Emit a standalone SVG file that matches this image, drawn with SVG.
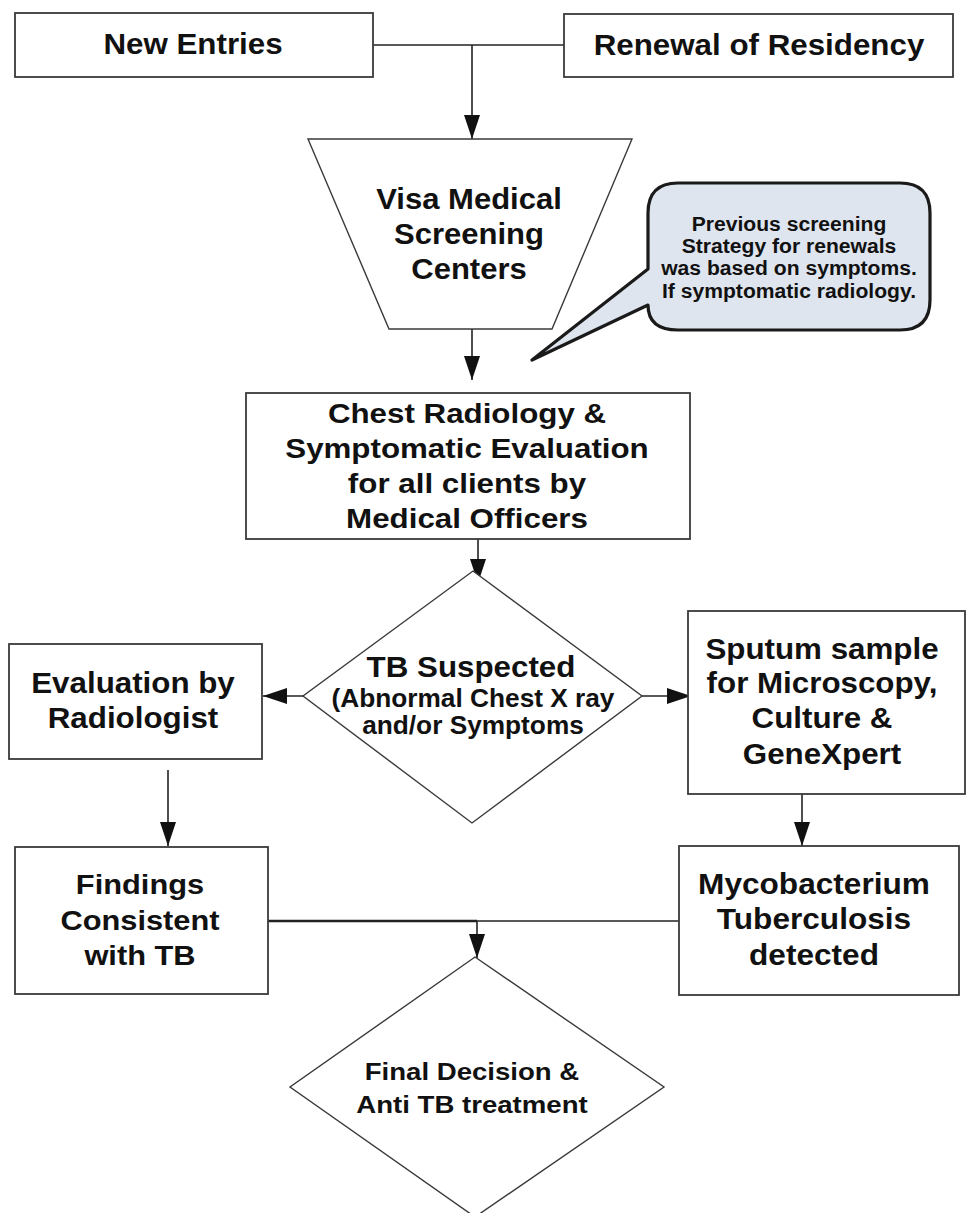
<svg xmlns="http://www.w3.org/2000/svg" width="967" height="1213" viewBox="0 0 967 1213">
<style>
.box{fill:#fff;stroke:#3a3a3a;stroke-width:1.8}
.shape{fill:#fff;stroke:#3a3a3a;stroke-width:1.4}
.ln{fill:none;stroke:#222;stroke-width:1.6}
.t{font-family:"Liberation Sans",Arial,sans-serif;font-weight:bold;fill:#111;text-anchor:middle}
</style>
<defs>
<marker id="ah" markerWidth="24" markerHeight="16" refX="24" refY="8" orient="auto" markerUnits="userSpaceOnUse">
<path d="M0,0 L24,8 L0,16 z" fill="#111"/>
</marker>
</defs>
<rect width="967" height="1213" fill="#fff"/>

<g id="connectors">
<path class="ln" d="M373,45 H564"/>
<path class="ln" d="M472,45 V139" marker-end="url(#ah)"/>
<path class="ln" d="M472,329 V380" marker-end="url(#ah)"/>
<path class="ln" d="M478,539 V583" marker-end="url(#ah)"/>
<path class="ln" d="M303,696 H263" marker-end="url(#ah)"/>
<path class="ln" d="M642,696 H691" marker-end="url(#ah)"/>
<path class="ln" d="M168,770 V846" marker-end="url(#ah)"/>
<path class="ln" d="M802,794 V846" marker-end="url(#ah)"/>
<path class="ln" d="M268,921 H477" style="stroke-width:2.4"/>
<path class="ln" d="M477,921 H679"/>
<path class="ln" d="M477,921 V958" marker-end="url(#ah)"/>
</g>

<g id="new-entries">
<rect class="box" x="15" y="13" width="358" height="64"/>
<g transform="translate(193,0) scale(1.08,1)"><text class="t" x="0" y="54" font-size="29">New Entries</text></g>
</g>

<g id="renewal">
<rect class="box" x="564" y="14" width="389" height="63"/>
<g transform="translate(759,0) scale(1.08,1)"><text class="t" x="0" y="55" font-size="29">Renewal of Residency</text></g>
</g>

<g id="visa-centers">
<polygon class="shape" points="308,139 632,139 552,329 389,329"/>
<g transform="translate(469,0) scale(1.07,1)">
<text class="t" x="0" y="209" font-size="29">Visa Medical</text>
<text class="t" x="0" y="244" font-size="29">Screening</text>
<text class="t" x="0" y="279" font-size="29">Centers</text>
</g>
</g>

<g id="callout">
<path d="M678,183 H900 Q930,183 930,213 V300 Q930,330 900,330 H678 Q648,330 648,305 L532,360 L648,269 V213 Q648,183 678,183 Z" fill="#dfe5ee" stroke="#1a1a1a" stroke-width="3.2" stroke-linejoin="round"/>
<g transform="translate(789,0) scale(1.03,1)">
<text class="t" x="0" y="231" font-size="20.5">Previous screening</text>
<text class="t" x="0" y="253" font-size="20.5">Strategy for renewals</text>
<text class="t" x="0" y="275" font-size="20.5">was based on symptoms.</text>
<text class="t" x="0" y="298" font-size="20.5">If symptomatic radiology.</text>
</g>
</g>

<g id="chest-radiology">
<rect class="box" x="246" y="393" width="444" height="146"/>
<g transform="translate(467,0) scale(1.16,1)">
<text class="t" x="0" y="423" font-size="27">Chest Radiology &amp;</text>
<text class="t" x="0" y="458" font-size="27">Symptomatic Evaluation</text>
<text class="t" x="0" y="493" font-size="27">for all clients by</text>
<text class="t" x="0" y="528" font-size="27">Medical Officers</text>
</g>
</g>

<g id="tb-suspected">
<polygon class="shape" points="473,571 642,696 472,823 303,696"/>
<g transform="translate(471,0) scale(1.08,1)"><text class="t" x="0" y="677" font-size="29">TB Suspected</text></g>
<g transform="translate(473,0) scale(1.05,1)">
<text class="t" x="0" y="707" font-size="25">(Abnormal Chest X ray</text>
<text class="t" x="0" y="734" font-size="25">and/or Symptoms</text>
</g>
</g>

<g id="evaluation-radiologist">
<rect class="box" x="9" y="644" width="253" height="115"/>
<g transform="translate(133,0) scale(1.08,1)">
<text class="t" x="0" y="693" font-size="29">Evaluation by</text>
<text class="t" x="0" y="728" font-size="29">Radiologist</text>
</g>
</g>

<g id="sputum-sample">
<rect class="box" x="688" y="611" width="277" height="183"/>
<g transform="translate(822,0) scale(1.08,1)">
<text class="t" x="0" y="659" font-size="29">Sputum sample</text>
<text class="t" x="0" y="693" font-size="29">for Microscopy,</text>
<text class="t" x="0" y="728" font-size="29">Culture &amp;</text>
<text class="t" x="0" y="764" font-size="29">GeneXpert</text>
</g>
</g>

<g id="findings">
<rect class="box" x="15" y="847" width="253" height="147"/>
<g transform="translate(140,0) scale(1.1,1)">
<text class="t" x="0" y="894" font-size="28">Findings</text>
<text class="t" x="0" y="930" font-size="28">Consistent</text>
<text class="t" x="0" y="965" font-size="28">with TB</text>
</g>
</g>

<g id="mycobacterium">
<rect class="box" x="679" y="846" width="280" height="149"/>
<g transform="translate(814,0) scale(1.09,1)">
<text class="t" x="0" y="894" font-size="29">Mycobacterium</text>
<text class="t" x="0" y="929" font-size="29">Tuberculosis</text>
<text class="t" x="0" y="965" font-size="29">detected</text>
</g>
</g>

<g id="final-decision">
<polygon class="shape" points="475,957 664,1087 475,1217 290,1087"/>
<g transform="translate(472,0) scale(1.2,1)">
<text class="t" x="0" y="1080" font-size="23">Final Decision &amp;</text>
<text class="t" x="0" y="1113" font-size="23">Anti TB treatment</text>
</g>
</g>
</svg>
